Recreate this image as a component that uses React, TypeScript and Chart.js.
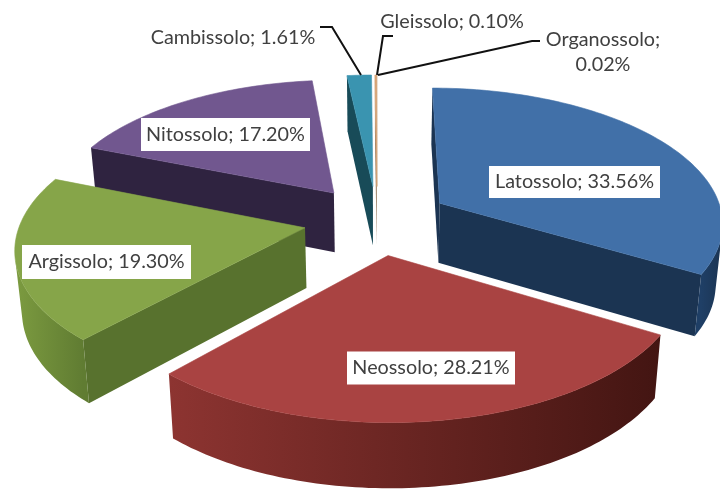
import React, { useEffect, useRef } from "react";
import { Chart, registerables } from "chart.js";

Chart.register(...registerables);

const categories = ["Latossolo", "Neossolo", "Argissolo", "Nitossolo", "Cambissolo", "Gleissolo", "Organossolo"];
const shares = [33.56, 28.21, 19.3, 17.2, 1.61, 0.1, 0.02];

const topColors = ["#4170a8", "#a94342", "#86a549", "#71578f", "#3a94b0", "#d6a273", "#c9a27f"];
const cutColors = ["#1b3452", "#4a1714", "#58722e", "#2f2340", "#184b58", "#8a6a4c", "#8a6a4c"];
const rimStart = ["#1b3452", "#431512", "#607c32", "#2f2340", "#184b58", "#8a6a4c", "#8a6a4c"];
const rimEnd = ["#1f3f66", "#8d3431", "#7c9b40", "#2f2340", "#184b58", "#8a6a4c", "#8a6a4c"];

// Perspective view of the pie plane.
const view = { cx: 377, cy: 220, sx: 284, sy: 134.5, persp: 0.1326, wall: 60, wallShrink: 0.98 };

const labelBoxes = [
  { x: 574.5, y: 182, w: 171, h: 32 },
  { x: 431, y: 368, w: 168, h: 33 },
  { x: 106.5, y: 262, w: 169, h: 34 },
  { x: 225.5, y: 134.5, w: 169, h: 33 },
];
const outerLabels = [
  { x: 233, y: 38 },
  { x: 452, y: 22 },
  { x: 603, y: 40 },
];
const leaders = [
  [[320, 27], [332, 27], [361, 75]],
  [[393, 36], [383, 36], [377, 75]],
  [[540, 41], [532, 41], [378, 75]],
];

const project = (u: number, v: number, drop: boolean) => {
  const s = 1 / (1 - view.persp * v);
  const k = drop ? view.wallShrink : 1;
  return {
    x: view.cx + view.sx * u * s * k,
    y: view.cy + view.sy * v * s + (drop ? view.wall * Math.sqrt(s) : 0),
  };
};

const trace = (ctx: any, pts: any[]) => {
  ctx.beginPath();
  pts.forEach((p, k) => (k ? ctx.lineTo(p.x, p.y) : ctx.moveTo(p.x, p.y)));
  ctx.closePath();
};

const shoelace = (q: any[]) => {
  let area = 0;
  q.forEach((a, k) => {
    const b = q[(k + 1) % q.length];
    area += a.x * b.y - b.x * a.y;
  });
  return area;
};

const pie3d = {
  id: "pie3d",
  beforeDatasetsDraw(chart: any) {
    const { ctx } = chart;
    const arcs = chart.getDatasetMeta(0).data.map((el: any, index: number) => {
      const start = el.startAngle + Math.PI / 2;
      const end = el.endAngle + Math.PI / 2;
      const mid = (start + end) / 2;
      const d = el.options.offset / el.outerRadius;
      const ou = d * Math.sin(mid), ov = -d * Math.cos(mid);
      const pts: { u: number; v: number }[] = [{ u: ou, v: ov }];
      const n = Math.max(2, Math.ceil((end - start) / 0.02));
      for (let i = 0; i <= n; i++) {
        const t = start + ((end - start) * i) / n;
        pts.push({ u: ou + Math.sin(t), v: ov - Math.cos(t) });
      }
      return { index, pts, ov, color: el.options.backgroundColor };
    });
    arcs.sort((a: any, b: any) => a.ov - b.ov || a.index - b.index);
    ctx.save();
    ctx.lineJoin = "round";
    for (const arc of arcs) {
      const top = arc.pts.map((p: any) => project(p.u, p.v, false));
      const low = arc.pts.map((p: any) => project(p.u, p.v, true));
      const m = top.length;
      // straight cut faces
      for (const [i, j] of [[0, 1], [m - 1, 0]]) {
        const q = [top[i], top[j], low[j], low[i]];
        if (shoelace(q) >= 0) continue;
        trace(ctx, q);
        ctx.fillStyle = cutColors[arc.index];
        ctx.fill();
      }
      // visible part of the curved rim, as one shape with a gradient along it
      const visible: number[] = [];
      for (let i = 1; i < m - 1; i++) {
        if (shoelace([top[i], top[i + 1], low[i + 1], low[i]]) < 0) visible.push(i);
      }
      if (visible.length) {
        const first = visible[0], last = visible[visible.length - 1] + 1;
        const upper: any[] = [], lower: any[] = [];
        for (let i = first; i <= last; i++) {
          upper.push(top[i]);
          lower.unshift(low[i]);
        }
        const g = ctx.createLinearGradient(top[first].x, 0, top[last].x + 0.01, 0);
        g.addColorStop(0, rimStart[arc.index]);
        g.addColorStop(1, rimEnd[arc.index]);
        trace(ctx, upper.concat(lower));
        ctx.fillStyle = g;
        ctx.fill();
      }
      trace(ctx, top);
      ctx.fillStyle = arc.color;
      ctx.strokeStyle = arc.color;
      ctx.lineWidth = 0.6;
      ctx.fill();
      ctx.stroke();
    }
    ctx.restore();
    return false;
  },
  afterDraw(chart: any) {
    const { ctx } = chart;
    ctx.save();
    ctx.strokeStyle = "#111111";
    ctx.lineWidth = 2;
    for (const line of leaders) {
      ctx.beginPath();
      line.forEach(([x, y], i) => (i ? ctx.lineTo(x, y) : ctx.moveTo(x, y)));
      ctx.stroke();
    }
    ctx.font = '19.8px Lato, "Open Sans", sans-serif';
    ctx.textAlign = "center";
    ctx.textBaseline = "middle";
    const text = (i: number) => `${categories[i]}; ${shares[i].toFixed(2)}%`;
    labelBoxes.forEach((b, i) => {
      ctx.fillStyle = "#ffffff";
      ctx.fillRect(b.x - b.w / 2, b.y - b.h / 2, b.w, b.h);
      ctx.fillStyle = "#404040";
      ctx.fillText(text(i), b.x, b.y);
    });
    ctx.fillStyle = "#404040";
    ctx.fillText(text(4), outerLabels[0].x, outerLabels[0].y);
    ctx.fillText(text(5), outerLabels[1].x, outerLabels[1].y);
    ctx.fillText(`${categories[6]};`, outerLabels[2].x, outerLabels[2].y);
    ctx.fillText(`${shares[6].toFixed(2)}%`, outerLabels[2].x, outerLabels[2].y + 25);
    ctx.restore();
  },
};

export default function App() {
  const ref = useRef<HTMLCanvasElement>(null);
  useEffect(() => {
    document.body.style.margin = "0";
    const chart = new Chart(ref.current as HTMLCanvasElement, {
      type: "pie",
      data: {
        labels: categories,
        datasets: [{ data: shares, backgroundColor: topColors, borderWidth: 0, offset: 56 }],
      },
      options: {
        animation: false,
        responsive: false,
        plugins: { legend: { display: false }, tooltip: { enabled: false } },
      },
      plugins: [pie3d],
    } as any);
    return () => chart.destroy();
  }, []);
  return (
    <div style={{ width: 720, height: 490, background: "#fff", overflow: "hidden" }}>
      <canvas ref={ref} width={720} height={490} style={{ display: "block", filter: "blur(0.6px)" }} />
    </div>
  );
}
